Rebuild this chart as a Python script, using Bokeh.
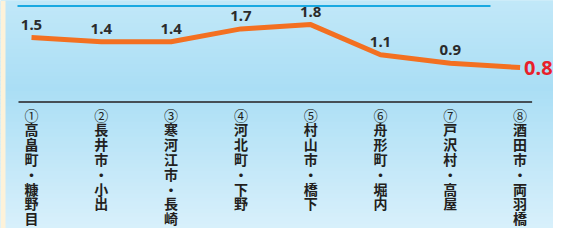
from bokeh.plotting import figure
from bokeh.models import Range1d, ColumnDataSource
from bokeh.core.properties import value
from bokeh.embed import file_html
from bokeh.resources import INLINE

# ---- data ----
numbers = ["①", "②", "③", "④", "⑤", "⑥", "⑦", "⑧"]
places = ["高畠町・糠野目", "長井市・小出", "寒河江市・長崎", "河北町・下野",
          "村山市・橋下", "舟形町・堀内", "戸沢村・高屋", "酒田市・両羽橋"]
values = [1.5, 1.4, 1.4, 1.7, 1.8, 1.1, 0.9, 0.8]

# ---- layout (pixels) ----
W, H = 553, 228
PX_X = 69.8      # pixels per category step
X0_PX = 31       # pixel of first category
PX_Y = 43        # pixels per unit of value
ZERO_PX = 101.5  # pixel row of value 0
ROW = 14.8       # vertical label row pitch
ROW0 = 12.5      # first label row below the baseline

x_start = -X0_PX / PX_X
x_end = x_start + W / PX_X
y_end = ZERO_PX / PX_Y
y_start = y_end - H / PX_Y

p = figure(width=W, height=H, x_range=Range1d(x_start, x_end),
           y_range=Range1d(y_start, y_end), output_backend="svg",
           toolbar_location=None, min_border=0,
           x_axis_location=None, y_axis_location=None)
p.grid.visible = False
p.outline_line_color = None
p.background_fill_color = "#b4e2f7"
p.border_fill_color = "#b4e2f7"

# background gradient bands
def lerp(c1, c2, t):
    return tuple(int(round(a + (b - a) * t)) for a, b in zip(c1, c2))

stops = [(0, (194, 232, 248)), (88, (170, 222, 245)), (228, (216, 240, 251))]
N = 60
tops, bottoms, cols = [], [], []
for k in range(N):
    fy0 = k * H / N
    fy1 = (k + 1) * H / N
    fm = (fy0 + fy1) / 2
    if fm <= stops[1][0]:
        c = lerp(stops[0][1], stops[1][1], (fm - stops[0][0]) / (stops[1][0] - stops[0][0]))
    else:
        c = lerp(stops[1][1], stops[2][1], min(1, (fm - stops[1][0]) / (stops[2][0] - stops[1][0])))
    tops.append(y_end - fy0 / PX_Y + 0.01)
    bottoms.append(y_end - fy1 / PX_Y - 0.01)
    cols.append("#%02x%02x%02x" % c)
p.quad(left=x_start, right=x_end, top=tops, bottom=bottoms, fill_color=cols, line_color=None)

# cream strip at the left edge
p.quad(left=x_start, right=x_start + 5 / PX_X, top=y_end, bottom=y_start,
       fill_color="#fdf2d9", line_color=None)

# top blue rule
p.segment(x0=x_start + 17 / PX_X, x1=x_start + 490 / PX_X, y0=y_end - 5.6 / PX_Y, y1=y_end - 5.6 / PX_Y,
          line_color="#19a9e1", line_width=2)

n = len(values)
xs = list(range(n))

# baseline
p.segment(x0=-13 / PX_X, x1=(n - 1) + 12 / PX_X, y0=0, y1=0, line_color="#231f20", line_width=1.6)

# line
p.line(xs, values, line_color="#f37021", line_width=5, line_join="round")

# value labels
p.text(xs[:-1], values[:-1], text=[f"{v:.1f}" for v in values[:-1]],
       text_align="center", text_baseline="middle", y_offset=-13,
       text_font=value("Noto Sans"), text_font_style="bold", text_font_size="15px",
       text_color="#2b2b2b")
p.text([xs[-1]], [values[-1]], text=[f"{values[-1]:.1f}"],
       text_align="left", text_baseline="middle", x_offset=4, y_offset=0,
       text_font=value("Noto Sans"), text_font_style="bold", text_font_size="20px",
       text_color="#e8202a")

# vertical category labels: circled number then each character stacked
num_src = ColumnDataSource(dict(x=xs, y=[0] * n, t=numbers))
p.text("x", "y", text="t", source=num_src, text_align="center", text_baseline="middle",
       y_offset=ROW0, text_font=value("Noto Sans CJK JP"), text_font_size="14px",
       text_color="#231f20")

cx, cy, ct, co = [], [], [], []
for i, pl in enumerate(places):
    for j, ch in enumerate(pl):
        cx.append(i)
        cy.append(0)
        ct.append(ch)
        co.append(ROW0 + ROW * (j + 1))
char_src = ColumnDataSource(dict(x=cx, y=cy, t=ct, off=co))
p.text("x", "y", text="t", y_offset="off", source=char_src, text_align="center",
       text_baseline="middle", text_font=value("Noto Sans CJK JP"), text_font_style="bold",
       text_font_size="14px", text_color="#231f20")

open("out.html", "w").write(file_html(p, INLINE))
